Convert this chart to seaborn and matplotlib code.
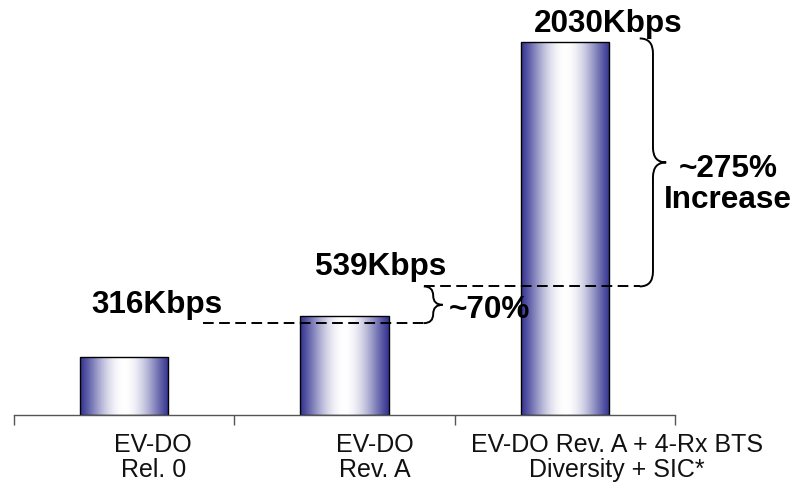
import numpy as np
import matplotlib
matplotlib.use("Agg")
import matplotlib.pyplot as plt
from matplotlib.path import Path
from matplotlib.patches import PathPatch
from matplotlib.transforms import ScaledTranslation
import seaborn as sns

# Data
categories = ["EV-DO\nRel. 0", "EV-DO\nRev. A", "EV-DO Rev. A + 4-Rx BTS\nDiversity + SIC*"]
throughput_kbps = [316, 539, 2030]
value_labels = ["316Kbps", "539Kbps", "2030Kbps"]
gain_labels = ["~70%", "~275%\nIncrease"]
gain_levels = [500, 700, 2050]   # dashed guide / brace levels (Kbps)

sns.set_theme(style="white")
plt.rcParams["font.family"] = ["Liberation Sans", "DejaVu Sans"]

fig = plt.figure(figsize=(8.08, 4.84), dpi=100)
ax = fig.add_axes([14 / 808, 69 / 484, 661 / 808, 413.3 / 484])

sns.barplot(x=categories, y=throughput_kbps, ax=ax, width=0.4,
            color="#353592", edgecolor="black", linewidth=1.0, saturation=1)

ax.set_xlim(-0.5, 2.5)
ax.set_ylim(0, 2250)

# Cylinder-like horizontal gradient: navy at the edges, white in the middle
dark = np.array([0x35, 0x35, 0x92]) / 255.0
t = np.linspace(0, 1, 256)
f = np.sin(np.pi * t) ** 1.2
grad = dark[None, :] + (1 - dark[None, :]) * f[:, None]
grad = grad[None, :, :]
for patch in ax.patches:
    x0, y0 = patch.get_x(), patch.get_y()
    w, h = patch.get_width(), patch.get_height()
    im = ax.imshow(grad, extent=[x0, x0 + w, y0, y0 + h], aspect="auto",
                   interpolation="bilinear", zorder=patch.get_zorder() + 0.1)
    im.set_clip_path(patch)
    patch.set_facecolor("none")
    patch.set_zorder(patch.get_zorder() + 0.2)
ax.set_xlim(-0.5, 2.5)
ax.set_ylim(0, 2250)

# Axes styling: only the baseline with boundary ticks
for side in ["left", "right", "top"]:
    ax.spines[side].set_visible(False)
ax.spines["bottom"].set_color("#555555")
ax.spines["bottom"].set_linewidth(1.0)
ax.set_yticks([])
ax.set_xticks([-0.5, 0.5, 1.5, 2.5])
ax.set_xticklabels([])
ax.tick_params(axis="x", which="major", length=7, width=1.0, color="#555555",
               direction="out", bottom=True)
ax.set_xticks([0, 1, 2], minor=True)
ax.set_xticklabels(categories, minor=True, fontsize=18, color="#111111",
                   linespacing=1.05)
ax.tick_params(axis="x", which="minor", length=0, pad=13)
shifts = [29, 30, 52]
for lbl, dx in zip(ax.get_xticklabels(minor=True), shifts):
    lbl.set_transform(lbl.get_transform() + ScaledTranslation(dx / 100, 0, fig.dpi_scale_trans))
ax.set_xlabel("")

# Value labels
bold = dict(fontsize=22.7, fontweight="bold", ha="center", va="center",
            color="black", clip_on=False)
label_pos = [(0.149, 598), (1.166, 805), (2.197, 2130)]
for (lx, ly), txt in zip(label_pos, value_labels):
    ax.text(lx, ly, txt, **bold)


def brace(ax, x0, width, y_lo, y_hi, r_frac=0.09):
    """Right-facing curly brace between y_lo and y_hi, opening at x0."""
    xm = x0 + width / 2
    xt = x0 + width
    ym = (y_lo + y_hi) / 2
    r = (y_hi - y_lo) * r_frac
    verts = [
        (x0, y_hi), (xm, y_hi), (xm, y_hi - r),
        (xm, ym + r),
        (xm, ym), (xt, ym),
        (xm, ym), (xm, ym - r),
        (xm, y_lo + r),
        (xm, y_lo), (x0, y_lo),
    ]
    codes = [Path.MOVETO, Path.CURVE3, Path.CURVE3, Path.LINETO,
             Path.CURVE3, Path.CURVE3, Path.CURVE3, Path.CURVE3,
             Path.LINETO, Path.CURVE3, Path.CURVE3]
    ax.add_patch(PathPatch(Path(verts, codes), fill=False, lw=1.4,
                           color="black", clip_on=False, zorder=5))


dash = (0, (5.5, 2.8))
lo, mid, hi = gain_levels
ax.plot([0.358, 1.36], [lo, lo], color="black", lw=1.4, ls=dash, zorder=5)
ax.plot([1.36, 2.34], [mid, mid], color="black", lw=1.4, ls=dash, zorder=5)
brace(ax, 1.36, 0.085, lo, mid, r_frac=0.25)
brace(ax, 2.34, 0.12, mid, hi, r_frac=0.06)

ax.text(1.66, 571, gain_labels[0], **bold)
ax.text(2.741, 1257, gain_labels[1], linespacing=1.05, **bold)

fig.savefig("out.png", dpi=100, facecolor="white")
